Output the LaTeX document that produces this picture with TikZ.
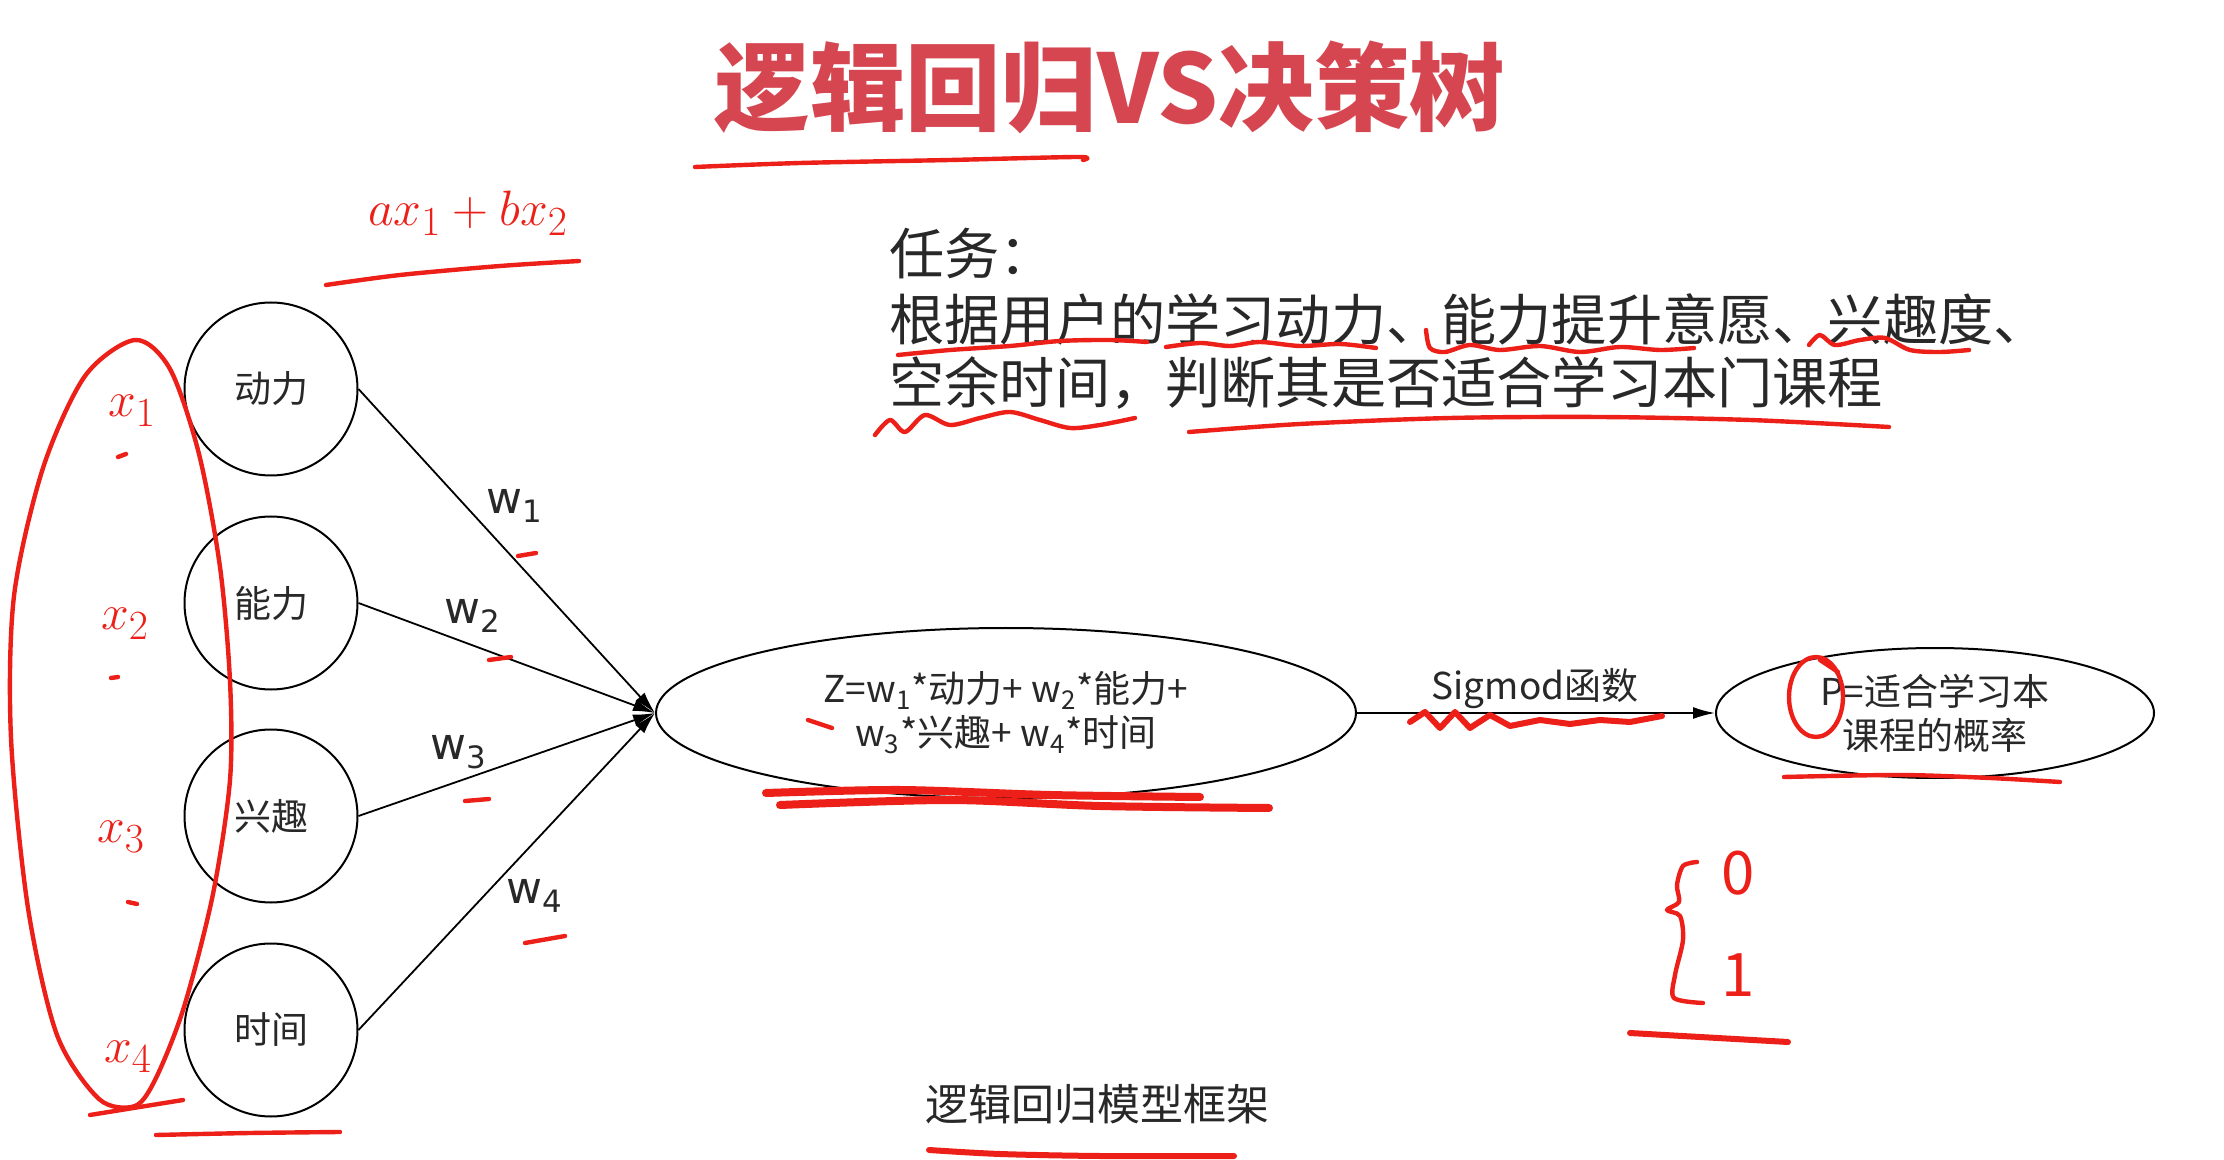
\documentclass[tikz,border=0pt]{standalone}
\usepackage{fontspec}
\setmainfont{Noto Sans CJK SC}
\newfontfamily\wfont{DejaVu Sans}
\usetikzlibrary{shapes.geometric,arrows.meta}
\definecolor{titlered}{RGB}{214,70,80}
\definecolor{penred}{RGB}{236,32,24}
\definecolor{ink}{RGB}{40,40,40}
\newcommand{\fsz}[2]{\fontsize{#1}{#2}\selectfont}
\begin{document}
\begin{tikzpicture}[x=0.5pt,y=-0.5pt,
  feature/.style={circle,draw,line width=1pt,minimum size=86.5pt,inner sep=0pt,font=\fsz{18.5}{22},text=ink},
  bigoval/.style={ellipse,draw,line width=1pt,inner sep=0pt,align=center,font=\fsz{18.5}{22},text=ink},
  wlabel/.style={font=\wfont\fsz{22}{26},text=ink},
  link/.style={line width=0.9pt,-{Latex[length=11pt,width=6pt]}},
  pen/.style={draw=penred,line width=2.2pt,line cap=round,line join=round},
  hand/.style={text=penred,font=\fsz{30}{34}},
  tasktext/.style={anchor=west,inner sep=0pt,font=\fsz{27.6}{32},text=ink},
]
\useasboundingbox[fill=white] (0,0) rectangle (2224,1160);

% title
\node[font=\bfseries\fsz{47.8}{56},text=titlered] (title) at (1110,87) {逻辑回归VS决策树};

% task statement
\node[tasktext] (task0) at (889,253) {任务：};
\node[tasktext] (task1) at (889,319) {根据用户的学习动力、能力提升意愿、兴趣度、};
\node[tasktext] (task2) at (889,383) {空余时间，判断其是否适合学习本门课程};

% input features
\node[feature] (f1) at (271,389) {动力};
\node[feature] (f2) at (271,603) {能力};
\node[feature] (f3) at (271,816) {兴趣};
\node[feature] (f4) at (271,1030) {时间};

% linear combination and probability
\node[bigoval,minimum width=350pt,minimum height=85pt] (z) at (1006,713)
  {Z=w\textsubscript{1}*动力+ w\textsubscript{2}*能力+\\ w\textsubscript{3}*兴趣+ w\textsubscript{4}*时间};
\node[bigoval,minimum width=219pt,minimum height=65pt] (p) at (1935,713)
  {P=适合学习本\\课程的概率};

\foreach \i in {1,...,4} \draw[link] (f\i.east) -- (z.west);
\draw[link] (z.east) -- (p.west);

% weights
\node[wlabel] (w1) at (515,506) {w\textsubscript{1}};
\node[wlabel] (w2) at (473,616) {w\textsubscript{2}};
\node[wlabel] (w3) at (459,752) {w\textsubscript{3}};
\node[wlabel] (w4) at (535,896) {w\textsubscript{4}};

\node[font=\fsz{18.5}{22},text=ink] (sig) at (1535,689) {Sigmod函数};
\node[font=\fsz{21.5}{26},text=ink] (caption) at (1097,1104) {逻辑回归模型框架};

% handwritten notes
\node[hand] (axbx) at (468,213) {$ax_1+bx_2$};
\node[hand] (x1) at (132,411) {$x_1$};
\node[hand] (x2) at (125,624) {$x_2$};
\node[hand] (x3) at (121,837) {$x_3$};
\node[hand] (x4) at (128,1057) {$x_4$};
\node[hand] (zero) at (1738,873) {0};
\node[hand] (one) at (1738,975) {1};

% pen strokes
\draw[pen] plot[smooth] coordinates {(695,167) (800,163) (950,160) (1078,157) (1083,160)};
\draw[pen] plot[smooth] coordinates {(326,285) (400,275) (500,266) (579,261)};
\draw[pen] plot[smooth cycle] coordinates {(135,340) (170,369) (199,454) (220,567) (230,681) (230,780) (213,894) (184,1007) (156,1078) (135,1106) (99,1099) (57,1035) (28,908) (11,738) (14,596) (43,468) (85,376)};
\draw[pen] (90,1115) -- (183,1100);
\draw[pen] plot[smooth] coordinates {(156,1135) (250,1133) (340,1132)};
\draw[pen] (118,457) -- (126,454);
\draw[pen] (111,678) -- (118,677);
\draw[pen] (128,902) -- (137,904);
\draw[pen] (518,556) -- (536,553);
\draw[pen] (489,660) -- (511,657);
\draw[pen] (465,801) -- (489,799);
\draw[pen] (525,943) -- (565,936);

\draw[pen] plot[smooth] coordinates {(898,355) (950,350) (1010,346) (1060,341) (1110,340) (1147,342)};
\draw[pen] plot[smooth] coordinates {(1166,347) (1200,343) (1230,346) (1260,342) (1300,346) (1340,344) (1376,348)};
\draw[pen] plot[smooth] coordinates {(1426,330) (1430,348) (1445,352) (1470,345) (1500,350) (1540,346) (1580,352) (1620,347) (1660,350) (1694,348)};
\draw[pen] plot[smooth] coordinates {(1809,345) (1820,335) (1835,345) (1860,340) (1885,338) (1910,350) (1940,352) (1969,350)};
\draw[pen] plot[smooth] coordinates {(875,435) (890,420) (905,432) (925,415) (950,425) (980,418) (1010,412) (1040,420) (1070,428) (1100,425) (1135,418)};
\draw[pen] plot[smooth] coordinates {(1189,432) (1300,424) (1450,418) (1600,417) (1750,420) (1889,427)};

\draw[pen,line width=4pt] plot[smooth] coordinates {(766,793) (900,790) (1050,795) (1200,797)};
\draw[pen,line width=4pt] plot[smooth] coordinates {(780,805) (950,800) (1100,806) (1269,808)};
\draw[pen] (808,720) -- (832,728);
\draw[pen,line width=3pt] plot coordinates {(1410,722) (1425,712) (1440,728) (1455,712) (1470,728) (1490,715) (1510,726) (1540,720) (1570,724) (1600,720) (1630,722) (1662,716)};
\draw[pen] (1816,697) ellipse [x radius=27, y radius=40];
\draw[pen] (1820,660) -- (1838,672);
\draw[pen] plot[smooth] coordinates {(1784,777) (1900,775) (1990,778) (2060,782)};
\draw[pen] plot[smooth] coordinates {(1697,862) (1683,866) (1677,885) (1679,902) (1667,910) (1680,916) (1683,940) (1675,975) (1674,998) (1703,1003)};
\draw[pen,line width=3pt] plot[smooth] coordinates {(1630,1033) (1700,1037) (1788,1042)};
\draw[pen,line width=3pt] plot[smooth] coordinates {(929,1150) (1000,1154) (1100,1156) (1234,1156)};
\end{tikzpicture}
\end{document}
